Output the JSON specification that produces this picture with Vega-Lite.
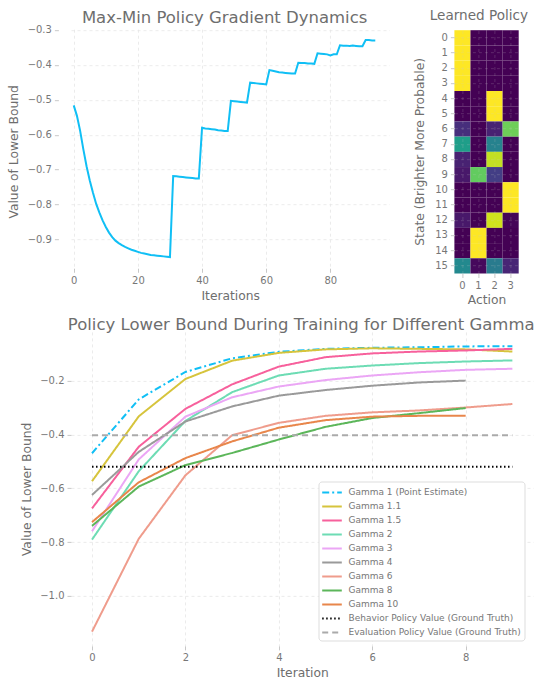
{
  "$schema": "https://vega.github.io/schema/vega-lite/v6.json",
  "background": "white",
  "padding": {"left": 7, "top": 9.2, "right": 5, "bottom": 0},
  "config": {
    "font": "DejaVu Sans",
    "view": {"stroke": null},
    "axis": {
      "domain": false, "grid": true, "gridColor": "#e6e6e6", "gridDash": [3, 3], "gridWidth": 0.8,
      "tickColor": "#c8c8c8", "tickSize": 4, "tickWidth": 1,
      "labelColor": "#777777", "labelFontSize": 10, "labelPadding": 3,
      "titleColor": "#6e6e6e", "titleFontSize": 12.3, "titleFontWeight": "normal",
      "labelFlush": false, "labelOverlap": false
    },
    "title": {"fontSize": 16.5, "fontWeight": "normal", "color": "#6e6e6e", "anchor": "middle", "frame": "group"}
  },
  "bounds": "flush",
  "spacing": 383.4,
  "hconcat": [
    {
      "bounds": "flush",
      "spacing": 57.7,
      "vconcat": [
        {
          "width": 318.4,
          "height": 244.3,
          "title": {"text": "Max-Min Policy Gradient Dynamics", "dx": -5.6, "offset": -1.4},
          "data": {"values": [
            {"iteration": 0, "value": -0.516}, {"iteration": 1, "value": -0.546}, {"iteration": 2, "value": -0.589},
            {"iteration": 3, "value": -0.642}, {"iteration": 4, "value": -0.690}, {"iteration": 5, "value": -0.731},
            {"iteration": 6, "value": -0.766}, {"iteration": 7, "value": -0.798}, {"iteration": 8, "value": -0.823},
            {"iteration": 9, "value": -0.845}, {"iteration": 10, "value": -0.864}, {"iteration": 11, "value": -0.880},
            {"iteration": 12, "value": -0.893}, {"iteration": 13, "value": -0.903}, {"iteration": 14, "value": -0.910},
            {"iteration": 15, "value": -0.916}, {"iteration": 16, "value": -0.921}, {"iteration": 17, "value": -0.925},
            {"iteration": 18, "value": -0.929}, {"iteration": 19, "value": -0.932}, {"iteration": 20, "value": -0.935},
            {"iteration": 21, "value": -0.938}, {"iteration": 22, "value": -0.940}, {"iteration": 23, "value": -0.942},
            {"iteration": 24, "value": -0.944}, {"iteration": 25, "value": -0.945}, {"iteration": 26, "value": -0.946},
            {"iteration": 27, "value": -0.947}, {"iteration": 28, "value": -0.948}, {"iteration": 29, "value": -0.949},
            {"iteration": 30, "value": -0.950}, {"iteration": 31, "value": -0.718}, {"iteration": 32, "value": -0.719},
            {"iteration": 33, "value": -0.720}, {"iteration": 34, "value": -0.721}, {"iteration": 35, "value": -0.722},
            {"iteration": 36, "value": -0.723}, {"iteration": 37, "value": -0.724}, {"iteration": 38, "value": -0.725},
            {"iteration": 39, "value": -0.725}, {"iteration": 40, "value": -0.580}, {"iteration": 41, "value": -0.582},
            {"iteration": 42, "value": -0.583}, {"iteration": 43, "value": -0.584}, {"iteration": 44, "value": -0.585},
            {"iteration": 45, "value": -0.587}, {"iteration": 46, "value": -0.588}, {"iteration": 47, "value": -0.589},
            {"iteration": 48, "value": -0.589}, {"iteration": 49, "value": -0.503}, {"iteration": 50, "value": -0.504},
            {"iteration": 51, "value": -0.505}, {"iteration": 52, "value": -0.506}, {"iteration": 53, "value": -0.507},
            {"iteration": 54, "value": -0.508}, {"iteration": 55, "value": -0.451}, {"iteration": 56, "value": -0.452},
            {"iteration": 57, "value": -0.453}, {"iteration": 58, "value": -0.454}, {"iteration": 59, "value": -0.455},
            {"iteration": 60, "value": -0.456}, {"iteration": 61, "value": -0.415}, {"iteration": 62, "value": -0.417},
            {"iteration": 63, "value": -0.419}, {"iteration": 64, "value": -0.421}, {"iteration": 65, "value": -0.422},
            {"iteration": 66, "value": -0.423}, {"iteration": 67, "value": -0.424}, {"iteration": 68, "value": -0.425},
            {"iteration": 69, "value": -0.425}, {"iteration": 70, "value": -0.394}, {"iteration": 71, "value": -0.395},
            {"iteration": 72, "value": -0.395}, {"iteration": 73, "value": -0.396}, {"iteration": 74, "value": -0.396},
            {"iteration": 75, "value": -0.397}, {"iteration": 76, "value": -0.367}, {"iteration": 77, "value": -0.368},
            {"iteration": 78, "value": -0.369}, {"iteration": 79, "value": -0.370}, {"iteration": 80, "value": -0.373},
            {"iteration": 81, "value": -0.370}, {"iteration": 82, "value": -0.370}, {"iteration": 83, "value": -0.344},
            {"iteration": 84, "value": -0.345}, {"iteration": 85, "value": -0.345}, {"iteration": 86, "value": -0.346},
            {"iteration": 87, "value": -0.345}, {"iteration": 88, "value": -0.346}, {"iteration": 89, "value": -0.347},
            {"iteration": 90, "value": -0.347}, {"iteration": 91, "value": -0.329}, {"iteration": 92, "value": -0.329},
            {"iteration": 93, "value": -0.330}, {"iteration": 94, "value": -0.330}
          ]},
          "mark": {"type": "line", "color": "#10bff5", "strokeWidth": 2},
          "encoding": {
            "x": {"field": "iteration", "type": "quantitative",
                  "scale": {"domain": [-0.85, 98.4], "nice": false, "zero": false},
                  "axis": {"values": [0, 20, 40, 60, 80], "title": "Iterations", "offset": -5.3, "titlePadding": 4}},
            "y": {"field": "value", "type": "quantitative",
                  "scale": {"domain": [-0.997, -0.298], "nice": false, "zero": false},
                  "axis": {"values": [-0.9, -0.8, -0.7, -0.6, -0.5, -0.4, -0.3], "title": "Value of Lower Bound", "offset": 12.6, "titlePadding": 6.5,
                           "labelExpr": "replace(format(datum.value, '.1f'), '-', '−')"}}
          }
        },
        {
          "width": 462.4,
          "height": 314,
          "title": {"text": "Policy Lower Bound During Training for Different Gamma", "dx": -1, "offset": -1.3},
          "data": {"values": [
            {"series": "Gamma 1 (Point Estimate)", "iteration": 0, "value": -0.470},
            {"series": "Gamma 1 (Point Estimate)", "iteration": 1, "value": -0.270},
            {"series": "Gamma 1 (Point Estimate)", "iteration": 2, "value": -0.168},
            {"series": "Gamma 1 (Point Estimate)", "iteration": 3, "value": -0.117},
            {"series": "Gamma 1 (Point Estimate)", "iteration": 4, "value": -0.093},
            {"series": "Gamma 1 (Point Estimate)", "iteration": 5, "value": -0.082},
            {"series": "Gamma 1 (Point Estimate)", "iteration": 6, "value": -0.078},
            {"series": "Gamma 1 (Point Estimate)", "iteration": 7, "value": -0.076},
            {"series": "Gamma 1 (Point Estimate)", "iteration": 8, "value": -0.073},
            {"series": "Gamma 1 (Point Estimate)", "iteration": 9, "value": -0.072},
            {"series": "Gamma 1.1", "iteration": 0, "value": -0.574},
            {"series": "Gamma 1.1", "iteration": 1, "value": -0.333},
            {"series": "Gamma 1.1", "iteration": 2, "value": -0.194},
            {"series": "Gamma 1.1", "iteration": 3, "value": -0.126},
            {"series": "Gamma 1.1", "iteration": 4, "value": -0.097},
            {"series": "Gamma 1.1", "iteration": 5, "value": -0.084},
            {"series": "Gamma 1.1", "iteration": 6, "value": -0.080},
            {"series": "Gamma 1.1", "iteration": 7, "value": -0.082},
            {"series": "Gamma 1.1", "iteration": 8, "value": -0.084},
            {"series": "Gamma 1.1", "iteration": 9, "value": -0.092},
            {"series": "Gamma 1.5", "iteration": 0, "value": -0.675},
            {"series": "Gamma 1.5", "iteration": 1, "value": -0.446},
            {"series": "Gamma 1.5", "iteration": 2, "value": -0.305},
            {"series": "Gamma 1.5", "iteration": 3, "value": -0.214},
            {"series": "Gamma 1.5", "iteration": 4, "value": -0.148},
            {"series": "Gamma 1.5", "iteration": 5, "value": -0.113},
            {"series": "Gamma 1.5", "iteration": 6, "value": -0.099},
            {"series": "Gamma 1.5", "iteration": 7, "value": -0.092},
            {"series": "Gamma 1.5", "iteration": 8, "value": -0.088},
            {"series": "Gamma 1.5", "iteration": 9, "value": -0.082},
            {"series": "Gamma 2", "iteration": 0, "value": -0.791},
            {"series": "Gamma 2", "iteration": 1, "value": -0.537},
            {"series": "Gamma 2", "iteration": 2, "value": -0.350},
            {"series": "Gamma 2", "iteration": 3, "value": -0.243},
            {"series": "Gamma 2", "iteration": 4, "value": -0.181},
            {"series": "Gamma 2", "iteration": 5, "value": -0.156},
            {"series": "Gamma 2", "iteration": 6, "value": -0.144},
            {"series": "Gamma 2", "iteration": 7, "value": -0.135},
            {"series": "Gamma 2", "iteration": 8, "value": -0.129},
            {"series": "Gamma 2", "iteration": 9, "value": -0.125},
            {"series": "Gamma 3", "iteration": 0, "value": -0.760},
            {"series": "Gamma 3", "iteration": 1, "value": -0.493},
            {"series": "Gamma 3", "iteration": 2, "value": -0.334},
            {"series": "Gamma 3", "iteration": 3, "value": -0.262},
            {"series": "Gamma 3", "iteration": 4, "value": -0.222},
            {"series": "Gamma 3", "iteration": 5, "value": -0.198},
            {"series": "Gamma 3", "iteration": 6, "value": -0.181},
            {"series": "Gamma 3", "iteration": 7, "value": -0.169},
            {"series": "Gamma 3", "iteration": 8, "value": -0.160},
            {"series": "Gamma 3", "iteration": 9, "value": -0.156},
            {"series": "Gamma 4", "iteration": 0, "value": -0.625},
            {"series": "Gamma 4", "iteration": 1, "value": -0.465},
            {"series": "Gamma 4", "iteration": 2, "value": -0.352},
            {"series": "Gamma 4", "iteration": 3, "value": -0.296},
            {"series": "Gamma 4", "iteration": 4, "value": -0.256},
            {"series": "Gamma 4", "iteration": 5, "value": -0.235},
            {"series": "Gamma 4", "iteration": 6, "value": -0.219},
            {"series": "Gamma 4", "iteration": 7, "value": -0.207},
            {"series": "Gamma 4", "iteration": 8, "value": -0.200},
            {"series": "Gamma 6", "iteration": 0, "value": -1.133},
            {"series": "Gamma 6", "iteration": 1, "value": -0.788},
            {"series": "Gamma 6", "iteration": 2, "value": -0.552},
            {"series": "Gamma 6", "iteration": 3, "value": -0.403},
            {"series": "Gamma 6", "iteration": 4, "value": -0.357},
            {"series": "Gamma 6", "iteration": 5, "value": -0.331},
            {"series": "Gamma 6", "iteration": 6, "value": -0.318},
            {"series": "Gamma 6", "iteration": 7, "value": -0.311},
            {"series": "Gamma 6", "iteration": 8, "value": -0.300},
            {"series": "Gamma 6", "iteration": 9, "value": -0.287},
            {"series": "Gamma 8", "iteration": 0, "value": -0.740},
            {"series": "Gamma 8", "iteration": 1, "value": -0.594},
            {"series": "Gamma 8", "iteration": 2, "value": -0.514},
            {"series": "Gamma 8", "iteration": 3, "value": -0.469},
            {"series": "Gamma 8", "iteration": 4, "value": -0.419},
            {"series": "Gamma 8", "iteration": 5, "value": -0.372},
            {"series": "Gamma 8", "iteration": 6, "value": -0.339},
            {"series": "Gamma 8", "iteration": 7, "value": -0.321},
            {"series": "Gamma 8", "iteration": 8, "value": -0.302},
            {"series": "Gamma 10", "iteration": 0, "value": -0.726},
            {"series": "Gamma 10", "iteration": 1, "value": -0.578},
            {"series": "Gamma 10", "iteration": 2, "value": -0.488},
            {"series": "Gamma 10", "iteration": 3, "value": -0.426},
            {"series": "Gamma 10", "iteration": 4, "value": -0.375},
            {"series": "Gamma 10", "iteration": 5, "value": -0.347},
            {"series": "Gamma 10", "iteration": 6, "value": -0.334},
            {"series": "Gamma 10", "iteration": 7, "value": -0.331},
            {"series": "Gamma 10", "iteration": 8, "value": -0.331},
            {"series": "Behavior Policy Value (Ground Truth)", "iteration": 0, "value": -0.520},
            {"series": "Behavior Policy Value (Ground Truth)", "iteration": 9, "value": -0.520},
            {"series": "Evaluation Policy Value (Ground Truth)", "iteration": 0, "value": -0.403},
            {"series": "Evaluation Policy Value (Ground Truth)", "iteration": 9, "value": -0.403}
          ]},
          "mark": {"type": "line", "strokeWidth": 2},
          "encoding": {
            "x": {"field": "iteration", "type": "quantitative",
                  "scale": {"domain": [-0.45, 9.45], "nice": false, "zero": false},
                  "axis": {"values": [0, 2, 4, 6, 8], "title": "Iteration", "titlePadding": 4}},
            "y": {"field": "value", "type": "quantitative",
                  "scale": {"domain": [-1.186, -0.019], "nice": false, "zero": false},
                  "axis": {"values": [-1.0, -0.8, -0.6, -0.4, -0.2], "title": "Value of Lower Bound", "titlePadding": 6.5,
                           "labelExpr": "replace(format(datum.value, '.1f'), '-', '−')"}},
            "color": {"field": "series", "type": "nominal",
                      "scale": {
                        "domain": ["Gamma 1 (Point Estimate)", "Gamma 1.1", "Gamma 1.5", "Gamma 2", "Gamma 3", "Gamma 4", "Gamma 6", "Gamma 8", "Gamma 10", "Behavior Policy Value (Ground Truth)", "Evaluation Policy Value (Ground Truth)"],
                        "range": ["#10bff5", "#d6c43c", "#f7609c", "#6ddcb4", "#eba6f5", "#9a9a9a", "#ef9c8c", "#5cb65a", "#e8864b", "#000000", "#aaaaaa"]},
                      "legend": {"orient": "none", "legendX": 247.5, "legendY": 452.3, "title": null,
                                 "symbolType": "M-1.4,0H1.4", "symbolSize": 196, "symbolStrokeWidth": 2,
                                 "labelFontSize": 9, "labelColor": "#777777", "labelLimit": 400,
                                 "fillColor": "white", "strokeColor": "#dddddd", "cornerRadius": 3,
                                 "padding": 3, "rowPadding": 1.0, "symbolOffset": 2.5, "labelOffset": 8.5,
                                 "encode": {"symbols": {"update": {"strokeDash": {"signal": "datum.value === 'Gamma 1 (Point Estimate)' ? [7, 3, 2, 3] : datum.value === 'Behavior Policy Value (Ground Truth)' ? [1.5, 2.5] : datum.value === 'Evaluation Policy Value (Ground Truth)' ? [6, 4] : [1, 0]"}}}}}},
            "strokeDash": {"field": "series", "type": "nominal",
                      "scale": {
                        "domain": ["Gamma 1 (Point Estimate)", "Gamma 1.1", "Gamma 1.5", "Gamma 2", "Gamma 3", "Gamma 4", "Gamma 6", "Gamma 8", "Gamma 10", "Behavior Policy Value (Ground Truth)", "Evaluation Policy Value (Ground Truth)"],
                        "range": [[7, 3, 2, 3], [1, 0], [1, 0], [1, 0], [1, 0], [1, 0], [1, 0], [1, 0], [1, 0], [1.5, 2.5], [6, 4]]},
                      "legend": null}
          }
        }
      ]
    },
    {
      "width": 64.3,
      "height": 244.3,
      "title": {"text": "Learned Policy", "dx": -7.7, "offset": 6.4, "fontSize": 13.6},
      "data": {"values": [
        {"state": 0, "action": 0, "prob": 1}, {"state": 0, "action": 1, "prob": 0}, {"state": 0, "action": 2, "prob": 0}, {"state": 0, "action": 3, "prob": 0},
        {"state": 1, "action": 0, "prob": 1}, {"state": 1, "action": 1, "prob": 0}, {"state": 1, "action": 2, "prob": 0}, {"state": 1, "action": 3, "prob": 0},
        {"state": 2, "action": 0, "prob": 1}, {"state": 2, "action": 1, "prob": 0}, {"state": 2, "action": 2, "prob": 0}, {"state": 2, "action": 3, "prob": 0},
        {"state": 3, "action": 0, "prob": 1}, {"state": 3, "action": 1, "prob": 0}, {"state": 3, "action": 2, "prob": 0}, {"state": 3, "action": 3, "prob": 0},
        {"state": 4, "action": 0, "prob": 0}, {"state": 4, "action": 1, "prob": 0}, {"state": 4, "action": 2, "prob": 1}, {"state": 4, "action": 3, "prob": 0},
        {"state": 5, "action": 0, "prob": 0}, {"state": 5, "action": 1, "prob": 0}, {"state": 5, "action": 2, "prob": 1}, {"state": 5, "action": 3, "prob": 0},
        {"state": 6, "action": 0, "prob": 0.13}, {"state": 6, "action": 1, "prob": 0}, {"state": 6, "action": 2, "prob": 0.09}, {"state": 6, "action": 3, "prob": 0.78},
        {"state": 7, "action": 0, "prob": 0.56}, {"state": 7, "action": 1, "prob": 0}, {"state": 7, "action": 2, "prob": 0.44}, {"state": 7, "action": 3, "prob": 0},
        {"state": 8, "action": 0, "prob": 0.09}, {"state": 8, "action": 1, "prob": 0}, {"state": 8, "action": 2, "prob": 0.91}, {"state": 8, "action": 3, "prob": 0},
        {"state": 9, "action": 0, "prob": 0.06}, {"state": 9, "action": 1, "prob": 0.76}, {"state": 9, "action": 2, "prob": 0.18}, {"state": 9, "action": 3, "prob": 0},
        {"state": 10, "action": 0, "prob": 0}, {"state": 10, "action": 1, "prob": 0}, {"state": 10, "action": 2, "prob": 0}, {"state": 10, "action": 3, "prob": 1},
        {"state": 11, "action": 0, "prob": 0}, {"state": 11, "action": 1, "prob": 0}, {"state": 11, "action": 2, "prob": 0}, {"state": 11, "action": 3, "prob": 1},
        {"state": 12, "action": 0, "prob": 0.06}, {"state": 12, "action": 1, "prob": 0}, {"state": 12, "action": 2, "prob": 0.93}, {"state": 12, "action": 3, "prob": 0.01},
        {"state": 13, "action": 0, "prob": 0}, {"state": 13, "action": 1, "prob": 1}, {"state": 13, "action": 2, "prob": 0}, {"state": 13, "action": 3, "prob": 0},
        {"state": 14, "action": 0, "prob": 0}, {"state": 14, "action": 1, "prob": 1}, {"state": 14, "action": 2, "prob": 0}, {"state": 14, "action": 3, "prob": 0},
        {"state": 15, "action": 0, "prob": 0.47}, {"state": 15, "action": 1, "prob": 0.02}, {"state": 15, "action": 2, "prob": 0.41}, {"state": 15, "action": 3, "prob": 0.10}
      ]},
      "mark": {"type": "rect"},
      "encoding": {
        "x": {"field": "action", "type": "ordinal",
              "scale": {"paddingInner": 0, "paddingOuter": 0},
              "axis": {"title": "Action", "labelAngle": 0, "grid": true, "bandPosition": 0.5, "zindex": 1, "gridColor": "#cccccc", "gridOpacity": 0.25, "titlePadding": 3}},
        "y": {"field": "state", "type": "ordinal",
              "scale": {"paddingInner": 0, "paddingOuter": 0.033, "align": 1},
              "axis": {"title": "State (Brighter More Probable)", "grid": true, "bandPosition": 0.5, "zindex": 1, "gridColor": "#cccccc", "gridOpacity": 0.25, "titlePadding": 8}},
        "color": {"field": "prob", "type": "quantitative", "scale": {"scheme": "viridis", "domain": [0, 1]}, "legend": null}
      }
    }
  ]
}
